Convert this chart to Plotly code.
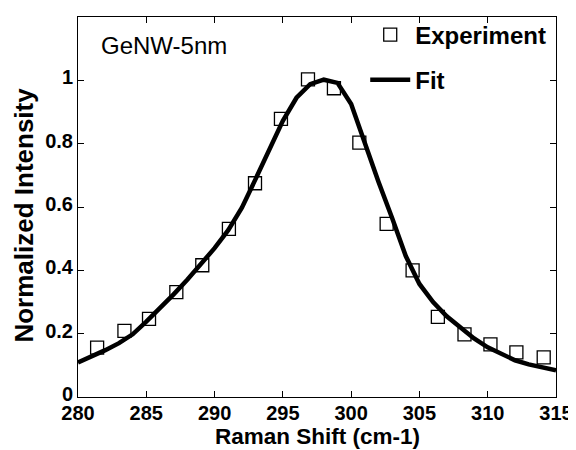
import plotly.graph_objects as go

exp_x = [281.4, 283.4, 285.2, 287.2, 289.1, 291.05, 292.96, 294.86, 296.84, 298.74,
         300.6, 302.6, 304.5, 306.35, 308.3, 310.2, 312.1, 314.1]
exp_y = [0.156, 0.209, 0.247, 0.331, 0.416, 0.531, 0.675, 0.878, 1.003, 0.975,
         0.803, 0.547, 0.400, 0.253, 0.198, 0.166, 0.141, 0.125]

# Fit curve
fit_x = [280, 281, 282, 283, 284, 285, 286, 287, 288, 289, 290, 291, 292, 293, 294,
         295, 296, 297, 298, 299, 300, 301, 302, 303, 304, 305, 306, 307, 308, 309,
         310, 311, 312, 313, 314, 315]
fit_y = [0.109, 0.128, 0.148, 0.170, 0.198, 0.238, 0.280, 0.324, 0.370, 0.418,
         0.470, 0.527, 0.598, 0.688, 0.782, 0.872, 0.945, 0.988, 1.002, 0.992,
         0.925, 0.800, 0.680, 0.565, 0.445, 0.357, 0.300, 0.255, 0.218, 0.185,
         0.157, 0.135, 0.116, 0.103, 0.092, 0.084]

x_ticks = [280, 285, 290, 295, 300, 305, 310, 315]
y_ticks = [0, 0.2, 0.4, 0.6, 0.8, 1]
y_tick_labels = ["0", "0.2", "0.4", "0.6", "0.8", "1"]

FONT = "Liberation Sans, Arial, sans-serif"

fig = go.Figure()
fig.add_trace(go.Scatter(
    x=exp_x, y=exp_y, mode="markers", name="Experiment", legendgroup="a",
    marker=dict(symbol="square-open", size=13, color="black", line=dict(width=1.3, color="black")),
))
fig.add_trace(go.Scatter(
    x=fit_x, y=fit_y, mode="lines", name="Fit", legendgroup="b",
    line=dict(color="black", width=4.5),
))

# page body has an 8px default margin, so the figure is 8px smaller
fig.update_layout(
    width=568, height=442,
    margin=dict(l=70, r=20, t=4, b=53),
    paper_bgcolor="white", plot_bgcolor="white",
    font=dict(family=FONT, color="black"),
    showlegend=True,
    legend=dict(
        x=0.99, y=1.012, xanchor="right", yanchor="top",
        bgcolor="rgba(0,0,0,0)", borderwidth=0,
        font=dict(size=24, family=FONT, weight="bold"),
        tracegroupgap=11, traceorder="grouped", itemwidth=40,
    ),
    annotations=[
        dict(x=0.044, y=0.926, xref="paper", yref="paper", xanchor="left", yanchor="middle",
             text="GeNW-5nm", showarrow=False,
             font=dict(size=24, family=FONT, color="black")),
        dict(x=0.5, y=-0.103, xref="paper", yref="paper", xanchor="center", yanchor="middle",
             text="Raman Shift (cm-1)", showarrow=False,
             font=dict(size=22.5, family=FONT, color="black", weight="bold")),
        dict(x=-0.113, y=0.48, xref="paper", yref="paper", xanchor="center", yanchor="middle",
             text="Normalized Intensity", showarrow=False, textangle=-90,
             font=dict(size=26, family=FONT, color="black", weight="bold")),
    ],
)

fig.update_xaxes(
    range=[280, 315], tickvals=x_ticks, ticks="inside", ticklen=6, tickwidth=1,
    tickcolor="black", showline=True, linecolor="black", linewidth=1, mirror="ticks",
    showgrid=False, zeroline=False, automargin=False, ticklabelstandoff=-2,
    tickfont=dict(size=20, weight="bold"),
)
fig.update_yaxes(
    range=[0, 1.2], tickvals=y_ticks, ticktext=y_tick_labels, ticks="inside", ticklen=6,
    tickwidth=1, tickcolor="black", showline=True, linecolor="black", linewidth=1,
    mirror="ticks", showgrid=False, zeroline=False, automargin=False, ticklabelshift=-3,
    tickfont=dict(size=20, weight="bold"),
)

fig.write_html("out.html")
